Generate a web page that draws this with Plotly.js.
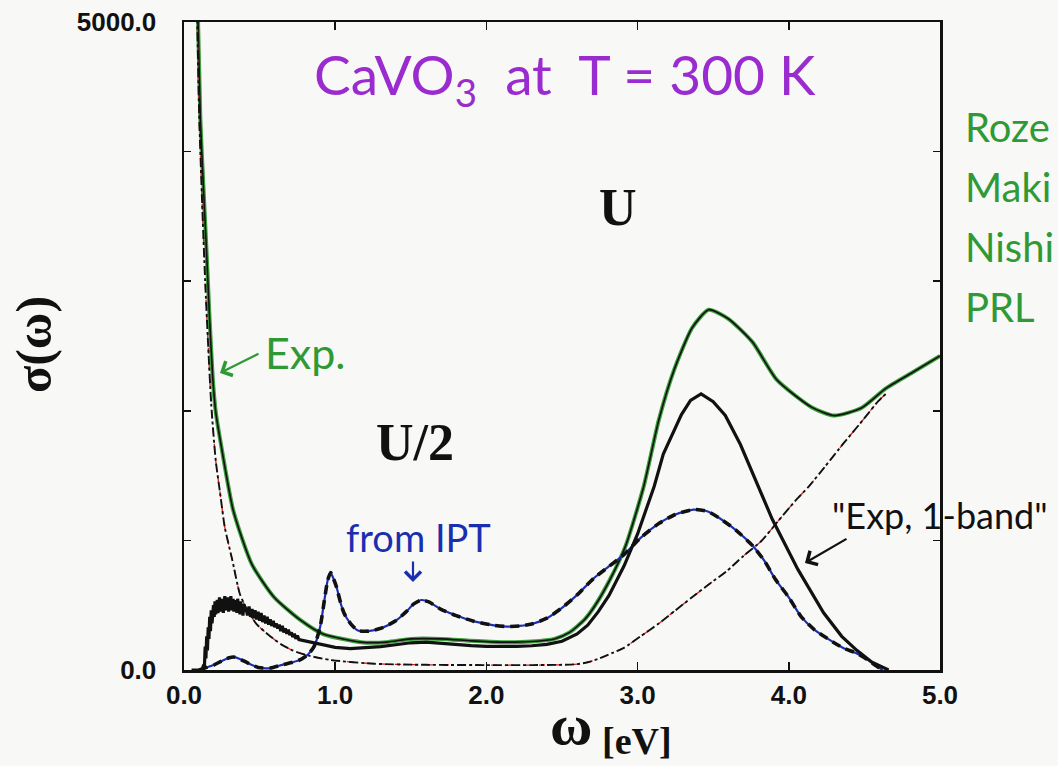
<!DOCTYPE html>
<html>
<head>
<meta charset="utf-8">
<script src="https://cdn.plot.ly/plotly-3.0.1.min.js"></script>
<style>html,body{margin:0;padding:0;background:#f8f8f6;}#chart{width:1058px;height:766px;}</style>
</head>
<body>
<div id="chart"></div>
<script>
// ---- data ----
// Experiment (total optical conductivity)
var expX = [0.08, 0.093, 0.108, 0.128, 0.149, 0.169, 0.19, 0.21, 0.245, 0.326, 0.449, 0.596, 0.771, 0.92, 1.17, 1.34, 1.5, 1.7, 1.9, 2.1, 2.3, 2.45, 2.55, 2.65, 2.72, 2.82, 2.92, 3.04, 3.14, 3.24, 3.36, 3.47, 3.60, 3.76, 3.92, 4.15, 4.30, 4.48, 4.64, 4.82, 5.0];
var expY = [5300, 5000, 4254, 3738, 3230, 2715, 2254, 1990, 1738, 1230, 815, 561, 384, 277, 215, 215, 240, 240, 225, 215, 220, 240, 290, 390, 500, 704, 956, 1415, 1928, 2311, 2639, 2780, 2710, 2530, 2240, 2028, 1963, 2021, 2171, 2297, 2424];

// "Exp, 1-band" (experiment minus other contributions); noisy at low frequency
var oneBandX = [0.05, 0.12, 0.13, 0.135, 0.14, 0.145, 0.15, 0.155, 0.16, 0.165, 0.17, 0.175, 0.18, 0.185, 0.19, 0.195, 0.20, 0.205, 0.21, 0.215, 0.22, 0.225, 0.23, 0.235, 0.24, 0.245, 0.25, 0.255, 0.26, 0.265, 0.27, 0.275, 0.28, 0.285, 0.29, 0.295, 0.30, 0.305, 0.31, 0.315, 0.32, 0.325, 0.33, 0.335, 0.34, 0.345, 0.35, 0.355, 0.36, 0.365, 0.37, 0.375, 0.38, 0.385, 0.39, 0.395, 0.40, 0.41, 0.42, 0.43, 0.44, 0.45, 0.46, 0.47, 0.48, 0.49, 0.50, 0.51, 0.52, 0.53, 0.54, 0.55, 0.56, 0.57, 0.58, 0.59, 0.60, 0.61, 0.62, 0.63, 0.64, 0.65, 0.66, 0.67, 0.68, 0.69, 0.70, 0.71, 0.72, 0.73, 0.74, 0.75, 0.76, 0.78, 0.80, 0.84, 0.88, 0.92, 0.96, 1.0, 1.1, 1.2, 1.3, 1.4, 1.5, 1.6, 1.7, 1.8, 1.9, 2.0, 2.1, 2.2, 2.3, 2.4, 2.5, 2.6, 2.67, 2.74, 2.81, 2.91, 3.0, 3.08, 3.11, 3.17, 3.29, 3.35, 3.42, 3.50, 3.58, 3.68, 3.77, 3.89, 4.06, 4.23, 4.35, 4.45, 4.55, 4.66];
var oneBandY = [0, 0, 40, 20, 180, 90, 260, 150, 330, 240, 410, 300, 460, 360, 420, 500, 410, 530, 430, 480, 540, 440, 510, 560, 450, 530, 470, 550, 440, 520, 570, 460, 540, 480, 560, 450, 530, 490, 570, 460, 520, 550, 450, 540, 480, 520, 440, 550, 470, 510, 430, 530, 460, 500, 420, 510, 450, 480, 420, 490, 410, 470, 400, 460, 390, 450, 380, 440, 370, 420, 360, 410, 350, 390, 340, 380, 330, 360, 320, 350, 300, 340, 290, 320, 280, 310, 270, 290, 255, 280, 240, 265, 235, 230, 225, 215, 205, 195, 185, 175, 165, 170, 180, 195, 210, 215, 205, 195, 188, 183, 180, 182, 187, 198, 222, 278, 346, 450, 574, 802, 1050, 1314, 1418, 1666, 1971, 2080, 2130, 2070, 1964, 1740, 1498, 1165, 776, 441, 260, 152, 60, 0];

// IPT theory
var iptX = [0.10, 0.15, 0.20, 0.25, 0.30, 0.33, 0.37, 0.42, 0.49, 0.57, 0.65, 0.72, 0.77, 0.82, 0.86, 0.90, 0.93, 0.95, 0.97, 0.99, 1.01, 1.04, 1.06, 1.10, 1.15, 1.22, 1.31, 1.40, 1.47, 1.52, 1.57, 1.62, 1.70, 1.80, 1.92, 2.05, 2.14, 2.22, 2.30, 2.40, 2.50, 2.60, 2.71, 2.80, 2.90, 3.02, 3.14, 3.25, 3.37, 3.46, 3.54, 3.65, 3.76, 3.84, 3.91, 4.00, 4.08, 4.17, 4.27, 4.36, 4.45, 4.52, 4.58, 4.62];
var iptY = [0, 20, 40, 70, 95, 100, 85, 55, 20, 15, 40, 60, 80, 120, 180, 330, 550, 690, 752, 700, 635, 500, 435, 360, 305, 300, 325, 380, 450, 510, 540, 525, 468, 420, 375, 345, 335, 340, 355, 400, 480, 580, 707, 790, 880, 1020, 1130, 1200, 1238, 1225, 1173, 1080, 960, 840, 702, 560, 414, 310, 232, 170, 128, 80, 30, 0];

// Other contributions (Drude + higher bands), dash-dot
var otherX = [0.085, 0.10, 0.12, 0.14, 0.16, 0.18, 0.21, 0.24, 0.27, 0.32, 0.37, 0.42, 0.48, 0.56, 0.64, 0.72, 0.81, 0.97, 1.26, 1.6, 2.0, 2.3, 2.5, 2.6, 2.67, 2.75, 2.83, 2.91, 3.02, 3.14, 3.25, 3.36, 3.47, 3.59, 3.70, 3.82, 3.93, 4.05, 4.13, 4.24, 4.36, 4.47, 4.59, 4.65];
var otherY = [5200, 4300, 3600, 3000, 2500, 2050, 1615, 1354, 1100, 846, 584, 460, 354, 270, 200, 150, 115, 77, 48, 40, 38, 38, 40, 45, 60, 90, 130, 171, 260, 359, 460, 561, 660, 764, 880, 997, 1150, 1315, 1413, 1570, 1746, 1900, 2072, 2140];

var xTickVals = [0, 1, 2, 3, 4, 5];
var xTickText = ['0.0', '1.0', '2.0', '3.0', '4.0', '5.0'];
var yTickVals = [0, 5000];
var yTickText = ['0.0', '5000.0'];
var yMinorTicks = [1000, 2000, 3000, 4000];

// ---- layout helpers ----
var L = 184, R = 940, T = 22, B = 670;
function P(px, py) { return { x: (px - L) / (R - L), y: (B - py) / (B - T) }; }
function note(px, py, text, font, extra) {
  var p = P(px, py);
  var a = { xref: 'paper', yref: 'paper', x: p.x, y: p.y, text: text, showarrow: false,
            font: font, xanchor: 'center', yanchor: 'middle' };
  for (var k in (extra || {})) a[k] = extra[k];
  return a;
}
function arrow(tx, ty, sx, sy, color) {
  var p = P(tx, ty);
  return { xref: 'paper', yref: 'paper', x: p.x, y: p.y, ax: sx - tx, ay: sy - ty, text: '',
           showarrow: true, arrowhead: 4, arrowsize: 1.4, arrowwidth: 2.2, arrowcolor: color };
}

var hand = 'Lato, "Open Sans", sans-serif';
var serif = 'Liberation Serif, Times New Roman, serif';

var traces = [
  { x: expX, y: expY, mode: 'lines', line: { color: '#3c9e3c', width: 4, shape: 'spline', smoothing: 0.6 }, hoverinfo: 'skip' },
  { x: expX, y: expY, mode: 'lines', line: { color: '#111', width: 1.6, shape: 'spline', smoothing: 0.6 }, hoverinfo: 'skip' },
  { x: otherX, y: otherY, mode: 'lines', line: { color: '#d42020', width: 1.3, dash: '6px,10px', shape: 'spline', smoothing: 0.6 }, hoverinfo: 'skip' },
  { x: otherX, y: otherY, mode: 'lines', line: { color: '#111', width: 1.9, dash: 'dashdot', shape: 'spline', smoothing: 0.6 }, hoverinfo: 'skip' },
  { x: iptX, y: iptY, mode: 'lines', line: { color: '#1a2fb0', width: 2.2, shape: 'spline', smoothing: 0.6 }, hoverinfo: 'skip' },
  { x: iptX, y: iptY, mode: 'lines', line: { color: '#111', width: 3.6, dash: '9px,6px', shape: 'spline', smoothing: 0.6 }, hoverinfo: 'skip' },
  { x: oneBandX, y: oneBandY, mode: 'lines', line: { color: '#111', width: 3.2 }, hoverinfo: 'skip' }
];

var annotations = [
  note(565, 78, 'CaVO<sub>3</sub>  at  T = 300 K', { family: hand, size: 55, color: '#9a2ccf' }),
  note(305, 352, 'Exp.', { family: hand, size: 43, color: '#2f9a35' }),
  arrow(220, 373, 260, 353, '#2f9a35'),
  note(415, 442, '<b>U/2</b>', { family: serif, size: 52, color: '#111' }),
  note(618, 207, '<b>U</b>', { family: serif, size: 52, color: '#111' }),
  note(418, 537, 'from IPT', { family: hand, size: 38, color: '#1a2fb0' }),
  arrow(413, 582, 413, 560, '#1a2fb0'),
  note(940, 515, '"Exp, 1-band"', { family: hand, size: 36, color: '#111' }),
  arrow(805, 563, 848, 538, '#111'),
  note(963, 127, 'Roze', { family: hand, size: 40, color: '#2f9a35' }, { xanchor: 'left' }),
  note(963, 187, 'Maki', { family: hand, size: 40, color: '#2f9a35' }, { xanchor: 'left' }),
  note(963, 247, 'Nishi', { family: hand, size: 40, color: '#2f9a35' }, { xanchor: 'left' }),
  note(963, 307, 'PRL', { family: hand, size: 40, color: '#2f9a35' }, { xanchor: 'left' }),
  note(34, 345, '<b>σ(ω)</b>', { family: serif, size: 50, color: '#111' }, { textangle: -90 }),
  note(571, 724, '<b>ω</b>', { family: serif, size: 58, color: '#111' }),
  note(637, 741, '<b>[eV]</b>', { family: serif, size: 38, color: '#111' })
];

var layout = {
  width: 1058, height: 766,
  margin: { l: L, r: 1058 - R, t: T, b: 766 - B },
  paper_bgcolor: '#f8f8f6', plot_bgcolor: '#f8f8f6',
  showlegend: false,
  xaxis: {
    range: [0, 5], tickvals: xTickVals, ticktext: xTickText,
    ticks: 'inside', ticklen: 8, tickwidth: 1.5, tickcolor: '#111',
    showline: true, linecolor: '#111', linewidth: 2.5, mirror: 'ticks',
    showgrid: false, zeroline: false,
    tickfont: { family: 'Liberation Sans, Arial, sans-serif', size: 26, color: '#111', weight: 'bold' }
  },
  yaxis: {
    range: [0, 5000], tickvals: yTickVals, ticktext: yTickText,
    ticks: 'inside', ticklen: 7, tickwidth: 1.5, tickcolor: '#111',
    minor: { tickvals: yMinorTicks, ticks: 'inside', ticklen: 7, tickwidth: 1.5, tickcolor: '#111', showgrid: false },
    showline: true, linecolor: '#111', linewidth: 2.5, mirror: 'ticks',
    showgrid: false, zeroline: false, ticklabelstandoff: 20,
    tickfont: { family: 'Liberation Sans, Arial, sans-serif', size: 26, color: '#111', weight: 'bold' }
  },
  annotations: annotations
};

Plotly.newPlot('chart', traces, layout, { displayModeBar: false, staticPlot: true });
</script>
</body>
</html>
